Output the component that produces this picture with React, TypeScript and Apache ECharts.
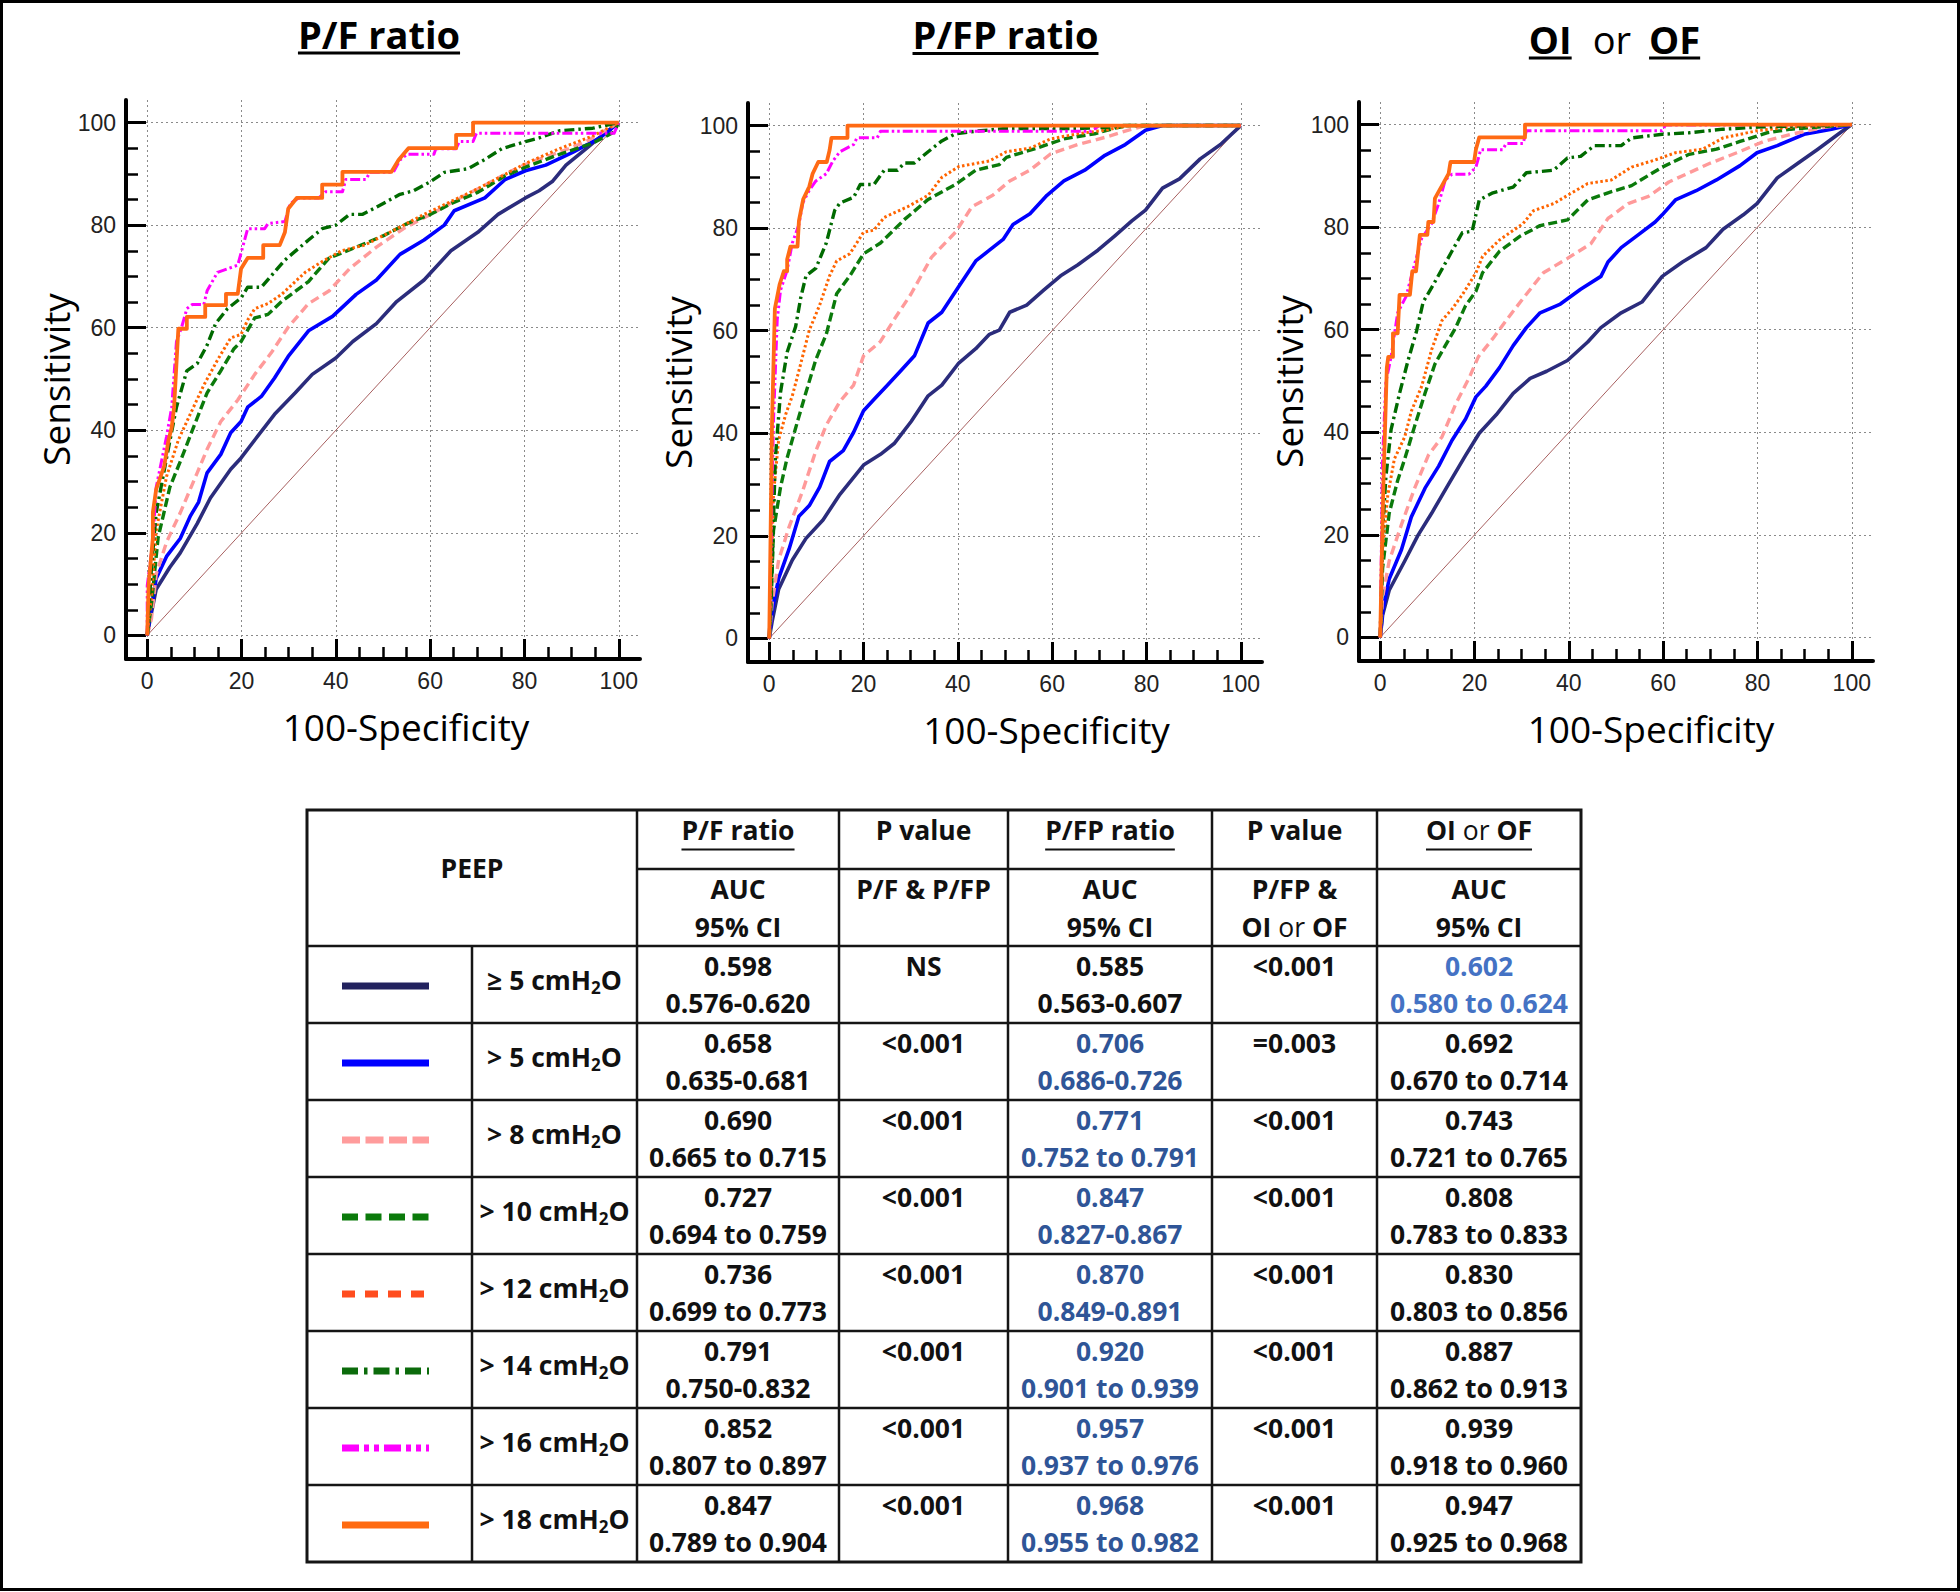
import React, { useEffect, useRef } from "react";
import * as echarts from "echarts";

// ---------------- data ----------------
const TICK_VALUES = [0, 20, 40, 60, 80, 100];
const MINOR_TICK_VALUES = [5, 10, 15, 25, 30, 35, 45, 50, 55, 65, 70, 75, 85, 90, 95];
const PANEL_TITLES = ["P/F ratio", "P/FP ratio", "OI or OF"];
const TITLE3_PARTS = ["OI", "or", "OF"];
const X_AXIS_NAME = "100-Specificity";
const Y_AXIS_NAME = "Sensitivity";
const REFERENCE_LINE = [[0, 0], [100, 100]];

const PEEP_LABELS = ["≥ 5", "> 5", "> 8", "> 10", "> 12", "> 14", "> 16", "> 18"];

// P/F ratio curves
const pfGe5 = [[0,0],[0.5,2.6],[1.9,9],[4.8,13.3],[7,16.1],[10.6,21.8],[13.4,26.8],[17.7,32.4],[19.9,34.6],[22.8,38.1],[27,43.1],[31.4,47.3],[35,50.9],[40,54.1],[43.6,57.3],[48.6,60.8],[52.9,65.1],[58.7,69.3],[64.4,75],[70.1,78.6],[74.4,82.1],[80.2,85.3],[83.1,86.7],[85.9,88.5],[88.8,91.7],[93.1,94.9],[96.7,97.7],[100,100]];
const pf5 = [[0,0],[0.5,3.3],[1.9,11.1],[4.1,15.4],[7,18.9],[9.1,23.2],[10.9,26],[12.7,31.7],[15.6,35.3],[17.7,39.5],[19.9,41.7],[21.3,44.5],[24.2,46.6],[27,50.2],[29.9,54.4],[34.2,59.4],[39.3,62.2],[44.3,66.5],[48.6,69.3],[53.6,74.3],[58.7,77.1],[63,80],[65.1,82.8],[71.6,85.3],[75.9,88.9],[80.2,90.6],[84.5,91.7],[90.2,94.2],[96,97],[100,100]];
const pf8 = [[0,0],[0.9,3.3],[1.9,11.9],[4.1,18.2],[7,23.9],[10.6,31.7],[12.7,36.3],[15.6,41.7],[19.2,45.9],[22.8,50.9],[26.3,55.1],[29.9,60.1],[34.2,64.7],[38.6,67.2],[42.9,71.5],[48.6,75.7],[54.3,79.3],[60.1,82.1],[65.8,85],[71.6,87.8],[77.3,90.6],[81.6,92.4],[87.4,94.2],[93.1,96.3],[100,100]];
const pf10 = [[0,0],[0.9,6.2],[2.3,19],[4.8,28.9],[7,33.9],[10,41],[12.7,47.3],[15.6,51.6],[18.4,55.9],[19.9,57.3],[22.8,61.9],[25.6,62.6],[28.5,65.1],[34.2,69],[38.6,73.6],[44.3,75.7],[50,77.9],[55.1,80.3],[60.1,82.1],[64.4,84.2],[70.1,86.4],[75.9,89.6],[80.2,91.3],[87.4,93.8],[94.5,96],[98.9,98.1],[100,100]];
const pf12 = [[0,0],[0.9,7.6],[1.9,20.4],[4.1,31],[6.6,38.1],[9.1,43.1],[12,48.8],[14.9,53.7],[17.7,58],[19.9,58.7],[21.3,61.5],[22.8,63.7],[25.6,64.7],[28.5,66.5],[33.5,70.8],[37.1,72.9],[41.2,75],[46.1,76.1],[52.9,79.3],[58.7,82.1],[64.4,84.6],[70.1,87.1],[75.9,89.9],[80.2,92],[87.4,94.9],[94.5,97.4],[100,100]];
const pf14 = [[0,0],[0.9,13.3],[1.9,23.9],[4.1,34.6],[6.2,44.5],[8.4,51.6],[10.6,53],[12.7,56.6],[14.5,60.8],[17,63.7],[19.9,65.8],[21.3,67.9],[24.2,67.9],[29.2,73.2],[34.2,77.1],[37.1,79.3],[40,80],[42.9,82.1],[45.7,82.1],[48.6,83.5],[53.6,86],[56.5,86.7],[60.1,88.5],[63,90.3],[68,91],[71.6,92.8],[75.2,94.9],[80.2,96.3],[83.1,97],[87.4,98.4],[94.5,98.9],[100,100]];
const pf16 = [[0,0],[0,9.7],[1.2,18.2],[1.9,28.9],[4.1,38.8],[5.2,44.5],[6.2,57.3],[7.3,60.1],[8.4,63.7],[9.5,64.5],[12,64.5],[12.7,67.2],[14.9,70.8],[19.2,72.2],[21.3,79.3],[24.9,79.3],[25.6,80.3],[29.2,80.7],[30.3,84.2],[32.1,85.3],[36.4,85.3],[37.8,86.5],[41.4,86.5],[42.1,88.9],[46.4,88.9],[47.2,90.3],[52.2,90.3],[53.6,92.7],[55.1,93.8],[60.8,93.8],[61.2,94.9],[65.5,94.9],[66.2,96.3],[69.1,96.3],[69.8,97.9],[99,97.9],[100,100]];
const pf18 = [[0,0],[0.3,10],[1.2,19],[1.2,24],[1.9,28.5],[3.6,33],[4.5,38],[5.2,40.6],[5.7,44.5],[6.6,59.8],[8.4,59.8],[8.4,62.1],[12.3,62.1],[12.3,64.4],[16.7,64.4],[16.7,66.6],[19.2,66.6],[19.9,71.5],[21.3,73.6],[24.6,73.6],[24.6,76.1],[28.1,76.1],[29.2,78.6],[29.9,83.2],[31.7,85.3],[37.1,85.3],[37.1,87.9],[41.4,87.9],[41.4,90.4],[51.8,90.4],[53.3,92.7],[55.4,95],[65.5,95],[65.5,97.6],[69.1,97.6],[69.1,100],[100,100]];

// P/FP ratio curves
const pfpGe5 = [[0,0],[0.6,3.2],[2,9.6],[4.9,15.3],[7.8,19.5],[11.4,23.1],[15,28.1],[20,33.8],[23.6,35.9],[26.5,38],[30.1,42.3],[33.7,47.3],[36.6,49.4],[40.2,53.7],[43.8,56.5],[46.7,59.3],[48.8,60.1],[51,63.6],[54.6,65],[58.2,67.9],[61.8,70.7],[65.4,72.8],[69.7,75.7],[73.3,78.5],[76.9,81.4],[79.8,83.5],[83.4,87.8],[87,89.6],[91.4,93.5],[95.7,96.3],[100,100]];
const pfp5 = [[0,0],[0.6,5.3],[2,11.7],[4.2,17.4],[6.3,23.8],[8.5,25.9],[10.7,29.5],[12.8,34.5],[15.7,36.6],[17.9,40.2],[20,44.4],[22.2,46.6],[25.1,49.4],[27.9,52.2],[30.8,55.1],[33.7,61.5],[36.6,63.6],[40.2,68.6],[43.8,73.6],[46.7,75.7],[49.6,77.8],[51.7,80.7],[55.3,82.8],[58.9,86.4],[62.5,89.2],[66.9,91.3],[71.2,94.2],[75.5,96.3],[79.8,99.1],[83.4,100],[100,100]];
const pfp8 = [[0,0],[0.6,6.8],[2,15.3],[4.2,21.7],[7.1,28.8],[9.9,36.6],[12.1,41.6],[15,46.2],[17.9,49.4],[20,55.1],[23.6,57.9],[26.5,62.2],[30.1,67.2],[34.4,74.3],[39.5,79.2],[43,84.2],[47.4,86.4],[51,89.2],[55.3,91.3],[59.7,94.5],[65.4,96.3],[71.2,97.7],[76.2,99.1],[79.8,100],[100,100]];
const pfp10 = [[0,0],[0.4,6.8],[0.9,21],[2.4,29.5],[3.8,35.2],[6,42.3],[7.8,48],[9.9,54.4],[12.1,59.3],[14.3,67.2],[17.1,70.7],[20,75],[23.6,77.1],[28.7,81.7],[33.7,85.6],[39.5,88.5],[43.8,91.3],[48.8,92.4],[50.3,93.8],[56.8,95.6],[62.5,97.4],[69,98.4],[73.3,99.5],[76.2,100],[100,100]];
const pfp12 = [[0,0],[0.4,10.3],[0.9,28.1],[2,38.7],[3.5,43.7],[4.9,47.3],[6.3,52.2],[8.5,60.1],[10.7,65],[12.8,70.7],[14.3,73.6],[17.1,75],[20,79.2],[22.2,79.6],[24.4,82.1],[29.4,84.2],[33.7,86.4],[36.6,89.9],[40.2,92],[46.7,93.1],[50.3,94.9],[55.3,95.6],[59.7,97.4],[65.4,98.4],[71.2,99.1],[76.2,100],[100,100]];
const pfp14 = [[0,0],[0.6,13.9],[1.3,35.2],[2.4,48],[3.8,55.8],[5.6,60.8],[6.7,66.5],[7.8,70.7],[9.9,72.2],[12.1,77.1],[13.9,83.5],[15,84.9],[17.9,86],[19.3,88.5],[22.2,88.5],[24.4,91.3],[27.2,91.3],[28.7,92.7],[30.8,92.7],[33.7,94.9],[36.6,97],[39.5,98.4],[43.8,98.9],[49.6,99.4],[65.4,99.4],[72.6,99.7],[75,100],[100,100]];
const pfp16 = [[0,0],[0.9,42.3],[1.7,62.2],[2.4,67.9],[3.8,71.8],[4.9,77.1],[6.3,80.7],[7.1,84.9],[8.5,87.4],[9.9,89.2],[12.1,90.6],[13.5,93.1],[15,94.9],[17.9,96.3],[18.6,97.6],[22.9,97.6],[23.6,98.9],[68.3,98.9],[70,100],[100,100]];
const pfp18 = [[0,0],[0.6,42.3],[1.2,64.3],[2.2,69],[3.1,71.6],[3.8,71.6],[3.8,73.9],[4.5,76.4],[6,76.4],[6.3,81.4],[7.2,85.6],[8.5,88.1],[9.2,90.6],[10.4,92.9],[12.2,92.9],[12.8,95.2],[13.2,97.6],[16.6,97.6],[16.6,100],[100,100]];

// OI or OF curves
const oiGe5 = [[0,0],[0.5,4.3],[1.9,9.2],[5.2,14.9],[8,19.9],[10.9,24.2],[14.5,29.9],[18.1,35.5],[21,39.8],[24.6,43.4],[28.2,47.6],[31.8,50.5],[35.3,51.9],[39.7,54],[44,57.6],[46.8,60.4],[51.1,63.3],[55.5,65.4],[59.8,70.4],[64.1,73.2],[69.1,76],[72.7,79.6],[77,82.4],[79.9,84.6],[84.2,89.6],[88.5,92.4],[92.8,95.2],[97.1,98.1],[100,100]];
const oi5 = [[0,0],[0.5,5],[1.9,11.4],[4.5,17.1],[6.6,23.5],[9.5,29.1],[12.4,33.4],[15.2,38.4],[18.1,42.6],[20.3,46.9],[22.4,49],[25.3,52.6],[28.2,56.9],[31,60.4],[33.9,63.3],[38.2,65],[42.5,67.9],[46.8,70.4],[48.3,73.2],[51.1,76],[54.7,78.5],[58.3,81],[59.8,82.4],[62.6,85.3],[67,87.1],[71.3,89.2],[76.3,92],[79.9,94.5],[84.2,95.9],[89.9,98.1],[95.7,99.1],[100,100]];
const oi8 = [[0,0],[0.5,7.8],[1.9,14.9],[4.5,22],[7.3,29.1],[10.2,35.5],[13.1,39.1],[16,45.5],[18.8,50.5],[20.8,54.7],[23.9,58.3],[26.7,61.8],[30.3,66.1],[34.6,71.1],[39.7,73.9],[44.7,76.8],[48.3,81.7],[52.6,84.6],[56.9,86],[61.2,88.8],[65.5,90.6],[69.8,92.4],[75.6,94.5],[81.3,96.7],[87.1,98.1],[94.3,99.5],[100,100]];
const oi10 = [[0,0],[0.5,13.5],[1.9,24.2],[3.7,30.6],[5.2,34.8],[7.3,41.2],[9.5,47.6],[11.6,53.3],[13.8,56.9],[16,60.4],[18.1,64.7],[20.3,67.5],[21.7,71.1],[25.3,75.3],[29.6,78.2],[33.9,80.3],[39.7,81.4],[44,85.3],[48.3,86.7],[53.3,88.1],[59.8,91.7],[65.5,94.2],[71.3,95.2],[76.3,96.7],[82,98.4],[87.1,99.1],[100,100]];
const oi12 = [[0,0],[0.5,17.1],[1.6,27.7],[3,34.8],[5.2,39.1],[6.6,44.1],[8.8,49],[10.9,56.1],[13.1,61.8],[15.2,64],[17.4,66.8],[20.3,71.1],[21.7,74.3],[25.3,77.5],[30.3,80.7],[32.5,83.2],[36.8,84.6],[44,88.5],[49,89.2],[53.3,91.7],[58.3,93.1],[62.6,94.5],[68.4,95.2],[72.7,97.4],[79.9,98.8],[87.1,99.5],[100,100]];
const oi14 = [[0,0],[0.5,20.6],[1.2,31.3],[2.3,40.5],[4.1,47.6],[5.9,54],[7.7,59.7],[9.1,65.4],[10.9,68.2],[13.1,71.8],[15.2,75.3],[17.4,78.9],[19.5,79.2],[21,85.3],[23.9,86.7],[28.2,87.8],[31,90.6],[36.8,91.1],[39.7,93.5],[42.5,93.8],[45.4,95.9],[51.1,95.9],[53.3,97.4],[59.8,98.1],[65.5,98.4],[72.7,99.1],[79.9,99.5],[100,100]];
const oi16 = [[0,0],[0.5,34.8],[1.2,49.8],[2.3,54.7],[3.7,63.3],[5.5,66.5],[7,71.8],[8.8,77.8],[10.9,80.7],[12.4,84.6],[13.8,89.2],[15.2,90.3],[18.8,90.3],[20.3,91.7],[21.3,95.1],[26,95.1],[26.7,96.3],[30.3,96.3],[31,98.8],[59.8,98.8],[60.5,99.9],[100,100]];
const oi18 = [[0,0],[0.3,14.2],[0.7,30.6],[1.4,52.6],[1.7,54.7],[2.7,54.7],[2.7,59.3],[3.7,59.3],[4.1,66.8],[6.3,66.8],[6.8,71.4],[7.6,71.4],[8.4,78.5],[10,78.5],[10.2,81],[11.3,81],[11.6,85.6],[13.1,88.1],[14.5,90.4],[14.9,92.7],[19.9,92.7],[20.3,95.2],[21,97.5],[30.7,97.5],[30.7,100],[100,100]];

const PF_CURVES = [pfGe5, pf5, pf8, pf10, pf12, pf14, pf16, pf18];
const PFP_CURVES = [pfpGe5, pfp5, pfp8, pfp10, pfp12, pfp14, pfp16, pfp18];
const OI_CURVES = [oiGe5, oi5, oi8, oi10, oi12, oi14, oi16, oi18];

// table values
const PF_AUC = ["0.598", "0.658", "0.690", "0.727", "0.736", "0.791", "0.852", "0.847"];
const PF_CI = ["0.576-0.620", "0.635-0.681", "0.665 to 0.715", "0.694 to 0.759", "0.699 to 0.773", "0.750-0.832", "0.807 to 0.897", "0.789 to 0.904"];
const P_PF_PFP = ["NS", "<0.001", "<0.001", "<0.001", "<0.001", "<0.001", "<0.001", "<0.001"];
const PFP_AUC = ["0.585", "0.706", "0.771", "0.847", "0.870", "0.920", "0.957", "0.968"];
const PFP_CI = ["0.563-0.607", "0.686-0.726", "0.752 to 0.791", "0.827-0.867", "0.849-0.891", "0.901 to 0.939", "0.937 to 0.976", "0.955 to 0.982"];
const P_PFP_OI = ["<0.001", "=0.003", "<0.001", "<0.001", "<0.001", "<0.001", "<0.001", "<0.001"];
const OI_AUC = ["0.602", "0.692", "0.743", "0.808", "0.830", "0.887", "0.939", "0.947"];
const OI_CI = ["0.580 to 0.624", "0.670 to 0.714", "0.721 to 0.765", "0.783 to 0.833", "0.803 to 0.856", "0.862 to 0.913", "0.918 to 0.960", "0.925 to 0.968"];

// ---------------- styles / layout ----------------
const FONT_SANS = '"Open Sans", "Noto Sans", sans-serif';
const FONT_TICK = '"Liberation Sans", Arial, sans-serif';

const X_MIN = -4.5;
const X_MAX = 104.5;
const Y_MIN = -4.6;
const Y_MAX = 104.4;
const GRID_W = 514;
const GRID_H = 559;

const PANELS = [
  { left: 126, top: 100, namePad: 46, curves: PF_CURVES },
  { left: 748, top: 103, namePad: 83, curves: PFP_CURVES },
  { left: 1359, top: 102, namePad: 70, curves: OI_CURVES },
];

const LINE_STYLES: any[] = [
  { color: "#2b2c7c", width: 3.6, type: "solid" },
  { color: "#0000ff", width: 3.6, type: "solid" },
  { color: "#ff9a9a", width: 3.4, type: [9, 5] },
  { color: "#0b7a0b", width: 3.4, type: [9, 4] },
  { color: "#ff6400", width: 3, type: [2.5, 2.5] },
  { color: "#006a00", width: 3.4, type: [10, 4, 2.5, 4] },
  { color: "#ff00ff", width: 3, type: [10, 3, 2.5, 3, 2.5, 3] },
  { color: "#ff6a14", width: 3.8, type: "solid" },
];

const LEGEND_SWATCHES: any[] = [
  { color: "#22225e", dash: null },
  { color: "#0000ff", dash: null },
  { color: "#ff9c9c", dash: [18, 5.5] },
  { color: "#0b7a0b", dash: [16, 7.5] },
  { color: "#ff4d1f", dash: [13, 10] },
  { color: "#0b6b0b", dash: [16, 6, 3.5, 6] },
  { color: "#ff00ff", dash: [17, 5, 5, 5, 5, 5] },
  { color: "#ff6a10", dash: null },
];

const COLS = [307, 472, 637, 839, 1008, 1212, 1377, 1581];
const ROWS = [810, 869, 946, 1023, 1100, 1177, 1254, 1331, 1408, 1485, 1562];

function measureText(text: string, font: string): number {
  const c = document.createElement("canvas").getContext("2d");
  if (!c) return text.length * 12;
  c.font = font;
  return c.measureText(text).width;
}

function txt(text: string, x: number, y: number, font: string, fill = "#111", align = "center", extra: any = {}) {
  return {
    type: "text",
    x,
    y,
    silent: true,
    z: 10,
    style: {
      text,
      font,
      fill,
      textAlign: align,
      textVerticalAlign: "middle",
      align,
      verticalAlign: "middle",
      ...extra,
    },
  };
}

function seg(x1: number, y1: number, x2: number, y2: number, stroke: string, lineWidth: number, dash?: number[] | null) {
  const style: any = { stroke, lineWidth, lineCap: "butt" };
  if (dash) style.lineDash = dash;
  return { type: "line", silent: true, z: 10, shape: { x1, y1, x2, y2 }, style };
}

function buildGraphics() {
  const els: any[] = [];
  // frame
  els.push({ type: "rect", silent: true, z: 10, shape: { x: 1.5, y: 1.5, width: 1957, height: 1588 }, style: { fill: "none", stroke: "#000", lineWidth: 3 } });

  // panel titles
  const tBold = `bold 38px ${FONT_SANS}`;
  const tReg = `38px ${FONT_SANS}`;
  const w1 = measureText(PANEL_TITLES[0], tBold);
  els.push(txt(PANEL_TITLES[0], 379, 33.5, tBold, "#000"));
  els.push(seg(379 - w1 / 2, 53, 379 + w1 / 2, 53, "#000", 3));
  const w2 = measureText(PANEL_TITLES[1], tBold);
  els.push(txt(PANEL_TITLES[1], 1005.5, 34, tBold, "#000"));
  els.push(seg(1005.5 - w2 / 2, 53.5, 1005.5 + w2 / 2, 53.5, "#000", 3));
  const wa = measureText(TITLE3_PARTS[0], tBold);
  const wb = measureText(TITLE3_PARTS[1], tReg);
  const wc = measureText(TITLE3_PARTS[2], tBold);
  const total = wa + 21 + wb + 18 + wc;
  const sx = 1614.5 - total / 2;
  els.push(txt(TITLE3_PARTS[0], sx, 39, tBold, "#000", "left"));
  els.push(seg(sx, 58, sx + wa, 58, "#000", 3));
  els.push(txt(TITLE3_PARTS[1], sx + wa + 21, 39, tReg, "#000", "left"));
  const ox = sx + wa + 21 + wb + 18;
  els.push(txt(TITLE3_PARTS[2], ox, 39, tBold, "#000", "left"));
  els.push(seg(ox, 58, ox + wc, 58, "#000", 3));

  // table grid
  const L = "#151515";
  els.push({ type: "rect", silent: true, z: 10, shape: { x: COLS[0], y: ROWS[0], width: COLS[7] - COLS[0], height: ROWS[10] - ROWS[0] }, style: { fill: "none", stroke: L, lineWidth: 3 } });
  for (let c = 2; c <= 6; c++) els.push(seg(COLS[c], ROWS[0], COLS[c], ROWS[10], L, 2.5));
  els.push(seg(COLS[1], ROWS[2], COLS[1], ROWS[10], L, 2.5));
  els.push(seg(COLS[2], ROWS[1], COLS[7], ROWS[1], L, 2.5));
  for (let r = 2; r <= 9; r++) els.push(seg(COLS[0], ROWS[r], COLS[7], ROWS[r], L, 2.5));

  const FS = 26.5;
  const F = `bold ${FS}px ${FONT_SANS}`;
  const FR = `${FS}px ${FONT_SANS}`;
  const cc = (c: number) => (COLS[c] + COLS[c + 1]) / 2;
  const h1 = 830;
  const h2a = 889.3;
  const h2b = 926.8;
  const ul = 849.5;
  const underline = (cx: number, w: number) => seg(cx - w / 2, ul, cx + w / 2, ul, "#111", 2);
  const oiRich = (x: number, y: number) =>
    txt("{b|OI} {r|or} {b|OF}", x, y, F, "#111", "center", {
      rich: {
        b: { fontSize: FS, fontWeight: "bold", fontFamily: FONT_SANS, fill: "#111" },
        r: { fontSize: FS, fontWeight: "normal", fontFamily: FONT_SANS, fill: "#111" },
      },
    });
  const oiW = measureText("OI", F) + measureText("OF", F) + measureText("or", FR) + 2 * measureText(" ", F);

  els.push(txt("PEEP", (COLS[0] + COLS[2]) / 2, 868, F));
  els.push(txt("P/F ratio", cc(2), h1, F));
  els.push(underline(cc(2), measureText("P/F ratio", F)));
  els.push(txt("AUC", cc(2), h2a, F));
  els.push(txt("95% CI", cc(2), h2b, F));
  els.push(txt("P value", cc(3), h1, F));
  els.push(txt("P/F & P/FP", cc(3), h2a, F));
  els.push(txt("P/FP ratio", cc(4), h1, F));
  els.push(underline(cc(4), measureText("P/FP ratio", F)));
  els.push(txt("AUC", cc(4), h2a, F));
  els.push(txt("95% CI", cc(4), h2b, F));
  els.push(txt("P value", cc(5), h1, F));
  els.push(txt("P/FP &", cc(5), h2a, F));
  els.push(oiRich(cc(5), h2b));
  els.push(oiRich(cc(6), h1));
  els.push(underline(cc(6), oiW));
  els.push(txt("AUC", cc(6), h2a, F));
  els.push(txt("95% CI", cc(6), h2b, F));

  for (let i = 0; i < 8; i++) {
    const top = ROWS[2 + i];
    const l1 = top + 20.3;
    const l2 = top + 57.3;
    const sw = LEGEND_SWATCHES[i];
    els.push(seg(342, top + 40, 429, top + 40, sw.color, 7, sw.dash));
    els.push(
      txt(`{n|${PEEP_LABELS[i]} cmH}{s|2}{n|O}`, cc(1), top + 34, F, "#111", "center", {
        rich: {
          n: { fontSize: FS, fontWeight: "bold", fontFamily: FONT_SANS, fill: "#111", lineHeight: 31 },
          s: { fontSize: 17, fontWeight: "bold", fontFamily: FONT_SANS, fill: "#111", lineHeight: 16, verticalAlign: "bottom" },
        },
      })
    );
    els.push(txt(PF_AUC[i], cc(2), l1, F));
    els.push(txt(PF_CI[i], cc(2), l2, F));
    els.push(txt(P_PF_PFP[i], cc(3), l1, F));
    const pfpColor = i === 0 ? "#111" : "#2f5597";
    els.push(txt(PFP_AUC[i], cc(4), l1, F, pfpColor));
    els.push(txt(PFP_CI[i], cc(4), l2, F, pfpColor));
    els.push(txt(P_PFP_OI[i], cc(5), l1, F));
    const oiColor = i === 0 ? "#4472c4" : "#111";
    els.push(txt(OI_AUC[i], cc(6), l1, F, oiColor));
    els.push(txt(OI_CI[i], cc(6), l2, F, oiColor));
  }
  return els;
}

function buildOption() {
  const grid: any[] = [];
  const xAxis: any[] = [];
  const yAxis: any[] = [];
  const series: any[] = [];
  const tickLabel = { show: true, customValues: TICK_VALUES, fontSize: 23, fontFamily: FONT_TICK, color: "#222" };
  const splitLine = { show: true, lineStyle: { color: "#8a8a8a", width: 1, type: [2, 3] } };

  PANELS.forEach((p, g) => {
    grid.push({ left: p.left, top: p.top, width: GRID_W, height: GRID_H });
    xAxis.push({
      gridIndex: g, type: "value", position: "bottom", min: X_MIN, max: X_MAX,
      name: X_AXIS_NAME, nameLocation: "middle", nameGap: 49,
      nameTextStyle: { fontSize: 37, fontFamily: FONT_SANS, color: "#000", padding: [0, 0, 0, p.namePad] },
      axisLine: { show: true, onZero: false, lineStyle: { color: "#000", width: 4 } },
      axisTick: { show: true, inside: true, length: 20, customValues: TICK_VALUES, lineStyle: { color: "#000", width: 3 } },
      axisLabel: { ...tickLabel, margin: 10 },
      splitLine,
    });
    xAxis.push({
      gridIndex: g, type: "value", position: "bottom", min: X_MIN, max: X_MAX,
      axisLine: { show: false, onZero: false },
      axisTick: { show: true, inside: true, length: 12, customValues: MINOR_TICK_VALUES, lineStyle: { color: "#000", width: 2.5 } },
      axisLabel: { show: false },
      splitLine: { show: false },
    });
    yAxis.push({
      gridIndex: g, type: "value", position: "left", min: Y_MIN, max: Y_MAX,
      name: Y_AXIS_NAME, nameLocation: "middle", nameGap: 47,
      nameTextStyle: { fontSize: 37, fontFamily: FONT_SANS, color: "#000" },
      axisLine: { show: true, onZero: false, lineStyle: { color: "#000", width: 4 } },
      axisTick: { show: true, inside: true, length: 20, customValues: TICK_VALUES, lineStyle: { color: "#000", width: 3 } },
      axisLabel: { ...tickLabel, margin: 10 },
      splitLine,
    });
    yAxis.push({
      gridIndex: g, type: "value", position: "left", min: Y_MIN, max: Y_MAX,
      axisLine: { show: false, onZero: false },
      axisTick: { show: true, inside: true, length: 12, customValues: MINOR_TICK_VALUES, lineStyle: { color: "#000", width: 2.5 } },
      axisLabel: { show: false },
      splitLine: { show: false },
    });
    series.push({
      type: "line", name: "Reference", xAxisIndex: 2 * g, yAxisIndex: 2 * g, data: REFERENCE_LINE,
      showSymbol: false, symbol: "none", silent: true, z: 2,
      lineStyle: { color: "#a86060", width: 1 },
    });
    LINE_STYLES.forEach((st, i) => {
      series.push({
        type: "line", name: `${PEEP_LABELS[i]} cmH2O`, xAxisIndex: 2 * g, yAxisIndex: 2 * g,
        data: p.curves[i], showSymbol: false, symbol: "none", silent: true, z: 3 + i,
        lineStyle: { color: st.color, width: st.width, type: st.type, cap: "butt", join: "round" },
      });
    });
  });

  return {
    animation: false,
    backgroundColor: "#fff",
    grid,
    xAxis,
    yAxis,
    series,
    graphic: buildGraphics(),
  };
}

export default function App() {
  const ref = useRef<HTMLDivElement>(null);
  useEffect(() => {
    if (!ref.current) return;
    const chart = echarts.init(ref.current, null, { renderer: "svg" });
    chart.setOption(buildOption() as any);
    return () => chart.dispose();
  }, []);
  return (
    <div
      ref={ref}
      style={{ position: "fixed", left: 0, top: 0, width: 1960, height: 1592, background: "#fff" }}
    />
  );
}
